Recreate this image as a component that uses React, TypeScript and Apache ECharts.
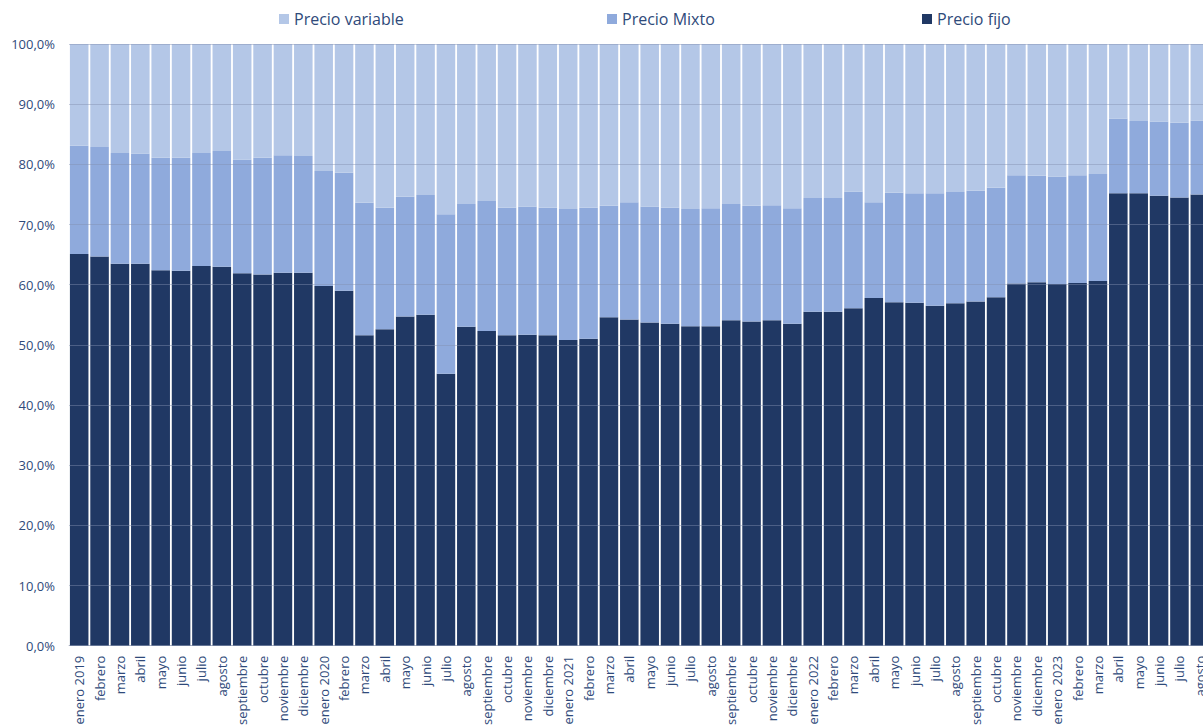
import React, { useEffect, useRef } from "react";
import * as echarts from "echarts";

const categories = [
  "enero 2019", "febrero", "marzo", "abril", "mayo", "junio", "julio", "agosto", "septiembre", "octubre", "noviembre", "diciembre",
  "enero 2020", "febrero", "marzo", "abril", "mayo", "junio", "julio", "agosto", "septiembre", "octubre", "noviembre", "diciembre",
  "enero 2021", "febrero", "marzo", "abril", "mayo", "junio", "julio", "agosto", "septiembre", "octubre", "noviembre", "diciembre",
  "enero 2022", "febrero", "marzo", "abril", "mayo", "junio", "julio", "agosto", "septiembre", "octubre", "noviembre", "diciembre",
  "enero 2023", "febrero", "marzo", "abril", "mayo", "junio", "julio", "agosto",
];

const precioFijo = [
  65.1, 64.7, 63.5, 63.5, 62.4, 62.3, 63.1, 63.0, 61.9, 61.7, 62.0, 62.0,
  59.8, 59.0, 51.6, 52.6, 54.7, 55.0, 45.2, 53.0, 52.3, 51.6, 51.7, 51.6,
  50.8, 51.0, 54.6, 54.2, 53.7, 53.5, 53.1, 53.1, 54.1, 53.9, 54.1, 53.5,
  55.5, 55.5, 56.1, 57.8, 57.1, 57.0, 56.5, 56.9, 57.2, 57.9, 60.2, 60.4,
  60.1, 60.3, 60.6, 75.2, 75.2, 74.8, 74.5, 75.0,
];

const precioMixto = [
  18.0, 18.2, 18.4, 18.3, 18.7, 18.8, 18.8, 19.2, 18.9, 19.4, 19.5, 19.4,
  19.1, 19.6, 22.0, 20.2, 19.9, 19.9, 26.5, 20.4, 21.6, 21.2, 21.3, 21.2,
  21.8, 21.8, 18.5, 19.5, 19.3, 19.3, 19.5, 19.6, 19.3, 19.2, 19.1, 19.2,
  18.9, 18.9, 19.4, 15.9, 18.2, 18.2, 18.7, 18.5, 18.4, 18.2, 18.0, 17.7,
  17.9, 17.9, 17.8, 12.4, 12.0, 12.3, 12.4, 12.3,
];

const precioVariable = [
  16.9, 17.1, 18.1, 18.2, 18.9, 18.9, 18.1, 17.8, 19.2, 18.9, 18.5, 18.6,
  21.1, 21.4, 26.4, 27.2, 25.4, 25.1, 28.3, 26.6, 26.1, 27.2, 27.0, 27.2,
  27.4, 27.2, 26.9, 26.3, 27.0, 27.2, 27.4, 27.3, 26.6, 26.9, 26.8, 27.3,
  25.6, 25.6, 24.5, 26.3, 24.7, 24.8, 24.8, 24.6, 24.4, 23.9, 21.8, 21.9,
  22.0, 21.8, 21.6, 12.4, 12.8, 12.9, 13.1, 12.7,
];

const seriesNames = ["Precio fijo", "Precio Mixto", "Precio variable"];
const seriesColors = ["#203864", "#8FAADC", "#B4C7E7"];

const TEXT = "#2F4A7A";
const FONT = "'Open Sans', 'Noto Sans', sans-serif";

export default function App() {
  const ref = useRef<HTMLDivElement>(null);

  useEffect(() => {
    if (!ref.current) return;
    const chart = echarts.init(ref.current, undefined, { renderer: "svg" });
    const legendBase = {
      top: 11,
      padding: 0,
      itemWidth: 10,
      itemHeight: 10,
      icon: "rect",
      textStyle: { color: TEXT, fontSize: 16, fontFamily: FONT },
    };
    chart.setOption({
      animation: false,
      backgroundColor: "#ffffff",
      textStyle: { fontFamily: FONT },
      legend: [
        { ...legendBase, left: 279, data: ["Precio variable"] },
        { ...legendBase, left: 607, data: ["Precio Mixto"] },
        { ...legendBase, left: 922, data: ["Precio fijo"] },
      ],
      grid: { left: 69, right: 5, top: 44, bottom: 79, containLabel: false },
      xAxis: {
        type: "category",
        data: categories,
        axisTick: { show: false },
        axisLine: { lineStyle: { color: "#C8CCD4", width: 1 } },
        axisLabel: {
          interval: 0,
          rotate: 90,
          margin: 10,
          color: TEXT,
          fontSize: 13,
          fontFamily: FONT,
        },
      },
      yAxis: {
        type: "value",
        min: 0,
        max: 100,
        interval: 10,
        z: 10,
        axisLine: { show: false },
        axisTick: { show: false },
        splitLine: { lineStyle: { color: "rgba(130,145,175,0.45)", width: 1 } },
        axisLabel: {
          margin: 14,
          color: TEXT,
          fontSize: 13,
          fontFamily: FONT,
          formatter: (v: number) => v.toFixed(1).replace(".", ",") + "%",
        },
      },
      series: [precioFijo, precioMixto, precioVariable].map((d, i) => ({
        name: seriesNames[i],
        type: "bar",
        stack: "total",
        data: d,
        barCategoryGap: "9%",
        itemStyle: { color: seriesColors[i] },
      })),
    });
    return () => chart.dispose();
  }, []);

  return (
    <div
      style={{
        position: "fixed",
        left: 0,
        top: 0,
        width: 1203,
        height: 728,
        overflow: "hidden",
        background: "#fff",
      }}
    >
      <div ref={ref} style={{ width: 1215, height: 728 }} />
    </div>
  );
}
